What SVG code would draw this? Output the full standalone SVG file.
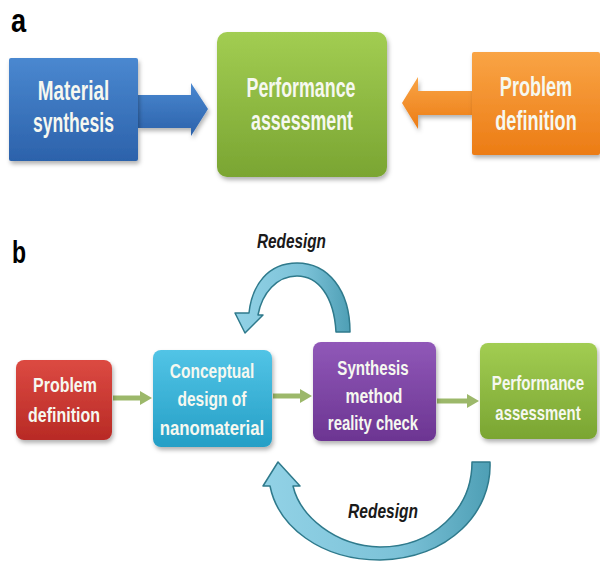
<svg xmlns="http://www.w3.org/2000/svg" width="600" height="562" viewBox="0 0 600 562">
<defs>
<style>
.lbl{font-family:"Liberation Sans",Arial,sans-serif;font-weight:bold;fill:#000}
.t{font-family:"Liberation Sans",Arial,sans-serif;font-weight:bold;fill:#f6f8f0;text-anchor:middle}
.ta{font-size:27px}
.tb{font-size:21px}
.rd{font-family:"Liberation Sans",Arial,sans-serif;font-weight:bold;font-style:italic;font-size:21px;fill:#1a1a1a;text-anchor:middle}
.conn{stroke:#9cb86a;stroke-width:5;fill:none}
.curve{stroke:#2f7a8c;stroke-width:1.5;stroke-linejoin:round}
</style>
<linearGradient id="gBlue" x1="0" y1="0" x2="0" y2="1"><stop offset="0" stop-color="#4a88d0"/><stop offset="1" stop-color="#2c62ab"/></linearGradient>
<linearGradient id="gGreen" x1="0" y1="0" x2="0" y2="1"><stop offset="0" stop-color="#a2cd52"/><stop offset="1" stop-color="#7aa532"/></linearGradient>
<linearGradient id="gOrange" x1="0" y1="0" x2="0" y2="1"><stop offset="0" stop-color="#f9a445"/><stop offset="1" stop-color="#ec7c15"/></linearGradient>
<linearGradient id="gRed" x1="0" y1="0" x2="0" y2="1"><stop offset="0" stop-color="#dc4a42"/><stop offset="1" stop-color="#b82a25"/></linearGradient>
<linearGradient id="gCyan" x1="0" y1="0" x2="0" y2="1"><stop offset="0" stop-color="#52c4e6"/><stop offset="1" stop-color="#249fc6"/></linearGradient>
<linearGradient id="gPurple" x1="0" y1="0" x2="0" y2="1"><stop offset="0" stop-color="#9058b8"/><stop offset="1" stop-color="#6c3592"/></linearGradient>
<linearGradient id="gCurve" x1="0" y1="0" x2="1" y2="0"><stop offset="0" stop-color="#92d2e6"/><stop offset="0.6" stop-color="#7cc2d8"/><stop offset="1" stop-color="#4e9fb5"/></linearGradient>
<filter id="sh" x="-10%" y="-10%" width="125%" height="130%"><feDropShadow dx="1.5" dy="3" stdDeviation="2" flood-color="#000" flood-opacity="0.3"/></filter>
<marker id="ah" viewBox="0 0 12 14" refX="2" refY="7" markerWidth="12" markerHeight="14" markerUnits="userSpaceOnUse" orient="auto"><path d="M0,0 L12,7 L0,14 Z" fill="#9cb86a"/></marker>
</defs>
<rect width="600" height="562" fill="#fff"/>

<text class="lbl" font-size="34" transform="translate(11,32) scale(0.8,1)">a</text>
<text class="lbl" font-size="32" transform="translate(12,263) scale(0.72,1)">b</text>

<g id="connectors">
<path id="arrow-a1" d="M138,95 L191,95 L191,83 L208,109 L191,136 L191,128 L138,128 Z" fill="url(#gBlue)" filter="url(#sh)"/>
<path id="arrow-a2" d="M472,91 L418,91 L418,77 L402,103 L418,129 L418,115 L472,115 Z" fill="url(#gOrange)" filter="url(#sh)"/>
<line class="conn" x1="113" y1="398" x2="142" y2="398" marker-end="url(#ah)"/>
<line class="conn" x1="273" y1="396" x2="302" y2="396" marker-end="url(#ah)"/>
<line class="conn" x1="437" y1="401" x2="469" y2="401" marker-end="url(#ah)"/>
<path id="redesign-top" class="curve" fill="url(#gCurve)" d="M350,332 C350,290 328,263 297,263 C268,263 252,285 249,313 L235,313 L245,333 L263,315 L258,315 C262,293 277,276 297,276 C318,276 334,296 336,332 Z"/>
<path id="redesign-bottom" class="curve" fill="url(#gCurve)" d="M472,462 L490,462 C492,512 450,558 380,560 C320,560 278,526 270,486 L263,486 L278,462 L300,486 L293,486 C300,516 335,546 380,547 C432,547 472,510 472,462 Z"/>
<text class="rd" transform="translate(291.5,248) scale(0.73,1)">Redesign</text>
<text class="rd" transform="translate(383,518) scale(0.74,1)">Redesign</text>
</g>

<g id="a-material">
<rect x="9" y="58" width="129" height="103" rx="2" fill="url(#gBlue)" filter="url(#sh)"/>
<text class="t ta" transform="translate(73.5,100) scale(0.7,1)">Material</text>
<text class="t ta" transform="translate(73.5,132) scale(0.65,1)">synthesis</text>
</g>
<g id="a-performance">
<rect x="217" y="32" width="170" height="145" rx="10" fill="url(#gGreen)" filter="url(#sh)"/>
<text class="t ta" transform="translate(301,97) scale(0.66,1)">Performance</text>
<text class="t ta" transform="translate(302,130) scale(0.66,1)">assessment</text>
</g>
<g id="a-problem">
<rect x="472" y="52" width="128" height="103" rx="2" fill="url(#gOrange)" filter="url(#sh)"/>
<text class="t ta" transform="translate(536,96) scale(0.67,1)">Problem</text>
<text class="t ta" transform="translate(536,130) scale(0.67,1)">definition</text>
</g>

<g id="b-problem">
<rect x="16" y="360" width="96" height="80" rx="8" fill="url(#gRed)" filter="url(#sh)"/>
<text class="t tb" transform="translate(65,392) scale(0.76,1)">Problem</text>
<text class="t tb" transform="translate(64,422) scale(0.76,1)">definition</text>
</g>
<g id="b-conceptual">
<rect x="153" y="350" width="119" height="97" rx="8" fill="url(#gCyan)" filter="url(#sh)"/>
<text class="t tb" transform="translate(212,378) scale(0.74,1)">Conceptual</text>
<text class="t tb" transform="translate(212,406) scale(0.74,1)">design of</text>
<text class="t tb" transform="translate(212,435) scale(0.8,1)">nanomaterial</text>
</g>
<g id="b-synthesis">
<rect x="313" y="342" width="123" height="99" rx="8" fill="url(#gPurple)" filter="url(#sh)"/>
<text class="t tb" transform="translate(373,375) scale(0.72,1)">Synthesis</text>
<text class="t tb" transform="translate(374,403) scale(0.75,1)">method</text>
<text class="t tb" transform="translate(373,430) scale(0.71,1)">reality check</text>
</g>
<g id="b-performance">
<rect x="480" y="343" width="117" height="96" rx="8" fill="url(#gGreen)" filter="url(#sh)"/>
<text class="t tb" transform="translate(538,390) scale(0.72,1)">Performance</text>
<text class="t tb" transform="translate(538,420) scale(0.71,1)">assessment</text>
</g>
</svg>
